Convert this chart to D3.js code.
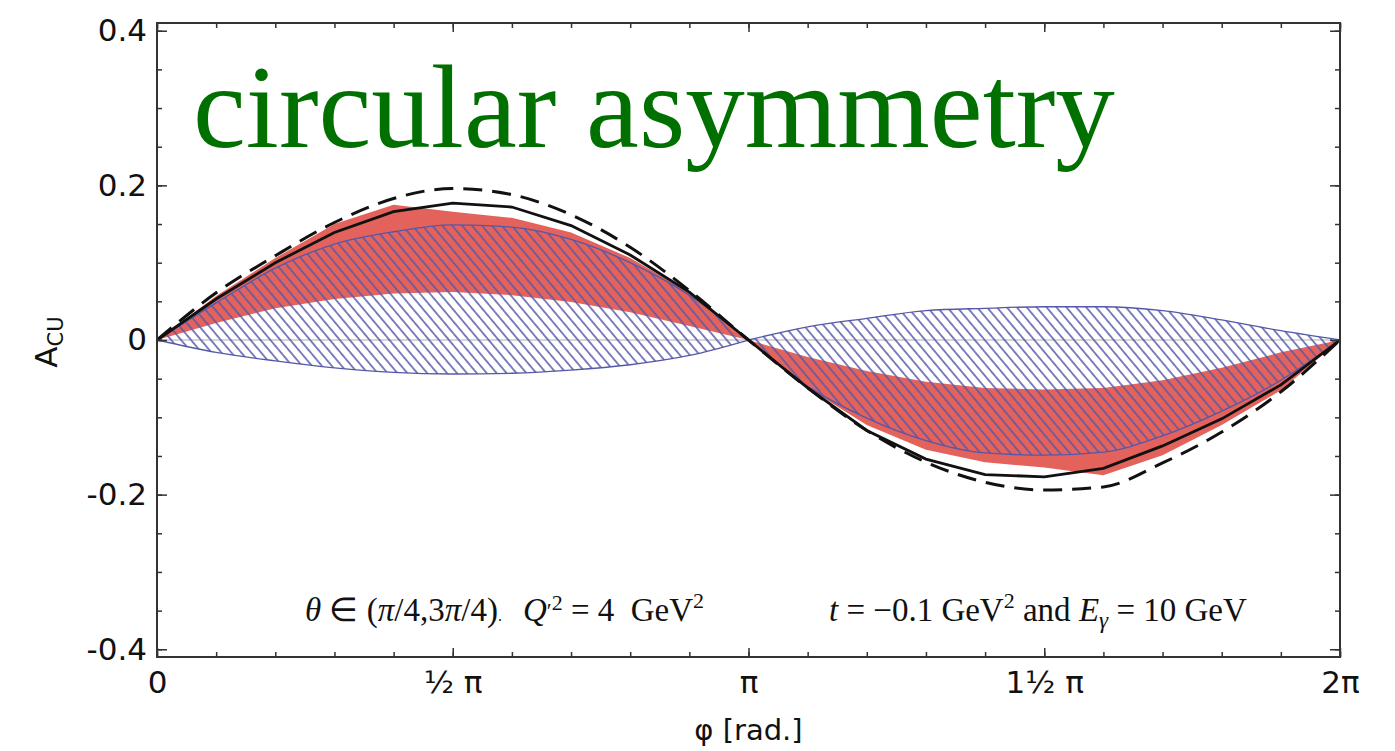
<!DOCTYPE html>
<html>
<head>
<meta charset="utf-8">
<script src="https://cdn.jsdelivr.net/npm/d3@7"></script>
<style>
  html, body { margin: 0; padding: 0; background: #fff; }
  svg { display: block; }
</style>
</head>
<body>
<svg id="chart" width="1395" height="751"></svg>
<script>
// Azimuthal angle phi, in units of pi (0 .. 2pi, step pi/10)
const phi = [0, 0.1, 0.2, 0.3, 0.4, 0.5, 0.6, 0.7, 0.8, 0.9, 1.0,
             1.1, 1.2, 1.3, 1.4, 1.5, 1.6, 1.7, 1.8, 1.9, 2.0];

// Solid black curve
const solidCurve = [0, 0.053, 0.100, 0.139, 0.166, 0.177, 0.172, 0.148, 0.110, 0.062, 0,
                    -0.062, -0.117, -0.154, -0.174, -0.177, -0.166, -0.137, -0.102, -0.058, 0];
// Dashed black curve
const dashedCurve = [0, 0.061, 0.109, 0.152, 0.183, 0.196, 0.188, 0.162, 0.120, 0.064, 0,
                     -0.062, -0.117, -0.158, -0.184, -0.194, -0.190, -0.159, -0.119, -0.067, 0];
// Red band edges
const redHigh = [0, 0.057, 0.106, 0.150, 0.175, 0.166, 0.158, 0.139, 0.106, 0.062, 0,
                 -0.022, -0.040, -0.054, -0.062, -0.064, -0.062, -0.052, -0.036, -0.016, 0];
const redLow  = [0, 0.022, 0.041, 0.053, 0.060, 0.062, 0.058, 0.049, 0.036, 0.018, 0,
                 -0.062, -0.110, -0.142, -0.158, -0.165, -0.175, -0.149, -0.110, -0.065, 0];
// Blue hatched band edges
const blueHigh = [0, 0.048, 0.093, 0.124, 0.140, 0.149, 0.146, 0.130, 0.100, 0.058, 0,
                  0.017, 0.028, 0.038, 0.041, 0.043, 0.043, 0.038, 0.026, 0.012, 0];
const blueLow  = [0, -0.016, -0.027, -0.036, -0.042, -0.044, -0.043, -0.039, -0.032, -0.020, 0,
                  -0.060, -0.101, -0.130, -0.146, -0.149, -0.145, -0.124, -0.092, -0.052, 0];

// Axis ticks
const xMajorTicks = [0, 0.5, 1, 1.5, 2];
const xTickLabels = ["0", "\u00BD \u03C0", "\u03C0", "1\u00BD \u03C0", "2\u03C0"];
const yMajorTicks = [-0.4, -0.2, 0, 0.2, 0.4];
const yTickLabels = ["-0.4", "-0.2", "0", "0.2", "0.4"];

const svg = d3.select("#chart");
const plotLeft = 157, plotRight = 1340, plotTop = 23, plotBottom = 657;

const x = d3.scaleLinear().domain([0, 2]).range([plotLeft, plotRight]);
const y = d3.scaleLinear().domain([-0.41, 0.41]).range([plotBottom, plotTop]);

const rows = phi.map((p, i) => ({
  p, solid: solidCurve[i], dashed: dashedCurve[i],
  rH: redHigh[i], rL: redLow[i], bH: blueHigh[i], bL: blueLow[i]
}));
// the band closes at phi = pi, so each half is drawn as its own lens
const halves = [rows.filter(d => d.p <= 1), rows.filter(d => d.p >= 1)];

// Diagonal hatch pattern
const defs = svg.append("defs");
const pat = defs.append("pattern")
  .attr("id", "hatch")
  .attr("patternUnits", "userSpaceOnUse")
  .attr("width", 7.6).attr("height", 20)
  .attr("patternTransform", "rotate(-40)");
pat.append("line")
  .attr("x1", 3.8).attr("y1", -2).attr("x2", 3.8).attr("y2", 22)
  .attr("stroke", "#5558a8").attr("stroke-width", 1.5);

defs.append("clipPath").attr("id", "plotclip")
  .append("rect").attr("x", plotLeft).attr("y", plotTop)
  .attr("width", plotRight - plotLeft).attr("height", plotBottom - plotTop);

const plot = svg.append("g").attr("clip-path", "url(#plotclip)");

// Red band
plot.append("path")
  .datum(rows)
  .attr("fill", "#e3625b")
  .attr("d", d3.area().x(d => x(d.p)).y0(d => y(d.rL)).y1(d => y(d.rH)));

// Zero line
plot.append("line")
  .attr("x1", plotLeft).attr("x2", plotRight)
  .attr("y1", y(0)).attr("y2", y(0))
  .attr("stroke", "#c8c8c8").attr("stroke-width", 1.5);

// Blue hatched band
const blueArea = d3.area().curve(d3.curveMonotoneX)
  .x(d => x(d.p)).y0(d => y(d.bL)).y1(d => y(d.bH));
plot.selectAll("path.blue")
  .data(halves)
  .join("path")
  .attr("class", "blue")
  .attr("fill", "url(#hatch)")
  .attr("stroke", "#5558a8").attr("stroke-width", 1.3)
  .attr("d", blueArea);

// Black curves
plot.append("path")
  .datum(rows)
  .attr("fill", "none").attr("stroke", "#111").attr("stroke-width", 3)
  .attr("stroke-dasharray", "19,10")
  .attr("d", d3.line().curve(d3.curveMonotoneX).x(d => x(d.p)).y(d => y(d.dashed)));

plot.append("path")
  .datum(rows)
  .attr("fill", "none").attr("stroke", "#111").attr("stroke-width", 2.8)
  .attr("d", d3.line().x(d => x(d.p)).y(d => y(d.solid)));

// Axes: major and minor ticks on all four sides, pointing inward
const tickFont = "'DejaVu Sans', sans-serif";
const xMinor = d3.range(0, 2.0001, 0.1);
const yMinor = d3.range(-0.4, 0.4001, 0.05);

function styleAxis(g) {
  g.select(".domain").remove();
  g.selectAll(".tick line").attr("stroke", "#333").attr("stroke-width", 1.5);
}

// bottom
svg.append("g").attr("transform", `translate(0,${plotBottom})`)
  .call(d3.axisBottom(x).tickValues(xMinor).tickSize(-5).tickFormat(""))
  .call(styleAxis);
svg.append("g").attr("transform", `translate(0,${plotBottom})`)
  .call(d3.axisBottom(x).tickValues(xMajorTicks).tickSize(-9).tickPadding(14)
    .tickFormat((d, i) => xTickLabels[i]))
  .call(styleAxis)
  .call(g => g.selectAll("text").attr("font-family", tickFont)
    .attr("font-size", 31).attr("fill", "#111"));
// top
svg.append("g").attr("transform", `translate(0,${plotTop})`)
  .call(d3.axisTop(x).tickValues(xMinor).tickSize(-5).tickFormat(""))
  .call(styleAxis);
svg.append("g").attr("transform", `translate(0,${plotTop})`)
  .call(d3.axisTop(x).tickValues(xMajorTicks).tickSize(-9).tickFormat(""))
  .call(styleAxis);
// left
svg.append("g").attr("transform", `translate(${plotLeft},0)`)
  .call(d3.axisLeft(y).tickValues(yMinor).tickSize(-5).tickFormat(""))
  .call(styleAxis);
svg.append("g").attr("transform", `translate(${plotLeft},0)`)
  .call(d3.axisLeft(y).tickValues(yMajorTicks).tickSize(-10).tickPadding(10)
    .tickFormat((d, i) => yTickLabels[i]))
  .call(styleAxis)
  .call(g => g.selectAll("text").attr("font-family", tickFont)
    .attr("font-size", 31).attr("fill", "#111"));
// right
svg.append("g").attr("transform", `translate(${plotRight},0)`)
  .call(d3.axisRight(y).tickValues(yMinor).tickSize(-5).tickFormat(""))
  .call(styleAxis);
svg.append("g").attr("transform", `translate(${plotRight},0)`)
  .call(d3.axisRight(y).tickValues(yMajorTicks).tickSize(-10).tickFormat(""))
  .call(styleAxis);

// Frame
svg.append("rect")
  .attr("x", plotLeft).attr("y", plotTop)
  .attr("width", plotRight - plotLeft).attr("height", plotBottom - plotTop)
  .attr("fill", "none").attr("stroke", "#333").attr("stroke-width", 2);

// Axis titles
svg.append("text")
  .attr("x", (plotLeft + plotRight) / 2).attr("y", 740)
  .attr("text-anchor", "middle")
  .attr("font-family", tickFont).attr("font-size", 29).attr("fill", "#111")
  .text("\u03C6 [rad.]");

const yl = svg.append("text")
  .attr("transform", "translate(57,342) rotate(-90)")
  .attr("text-anchor", "middle")
  .attr("font-family", tickFont).attr("fill", "#111");
yl.append("tspan").attr("font-size", 31).text("A");
yl.append("tspan").attr("font-size", 21).attr("dy", 6).text("CU");

// Title
svg.append("text")
  .attr("x", 193).attr("y", 147)
  .attr("font-family", "'Liberation Serif', 'Times New Roman', serif")
  .attr("font-size", 119).attr("fill", "#007000")
  .text("circular asymmetry");

// Kinematics annotation
const serif = "'Liberation Serif', 'Times New Roman', serif";
const base = 621;
function addMath(x0, parts) {
  const t = svg.append("text").attr("x", x0).attr("y", base)
    .attr("font-family", serif).attr("font-size", 33).attr("fill", "#111")
    .attr("xml:space", "preserve");
  parts.forEach(p => {
    const s = t.append("tspan").text(p.t);
    if (p.i) s.attr("font-style", "italic");
    if (p.fs) s.attr("font-size", p.fs);
    if (p.dy) s.attr("dy", p.dy);
  });
  return t;
}
addMath(305, [
  {t: "\u03B8", i: true}, {t: " \u2208 ("}, {t: "\u03C0", i: true}, {t: "/4,3"},
  {t: "\u03C0", i: true}, {t: "/4)"}, {t: ".", fs: 16}
]);
addMath(523, [
  {t: "Q", i: true}, {t: "\u2032", fs: 22, dy: -3}, {t: "2", fs: 22, dy: -8},
  {t: " = 4\u2002GeV", dy: 11}, {t: "2", fs: 22, dy: -13}
]);
addMath(829, [
  {t: "t", i: true}, {t: " = \u22120.1 GeV"}, {t: "2", fs: 22, dy: -13},
  {t: " and ", dy: 13}, {t: "E", i: true}, {t: "\u03B3", i: true, fs: 23, dy: 7},
  {t: " = 10 GeV", dy: -7}
]);
</script>
</body>
</html>
